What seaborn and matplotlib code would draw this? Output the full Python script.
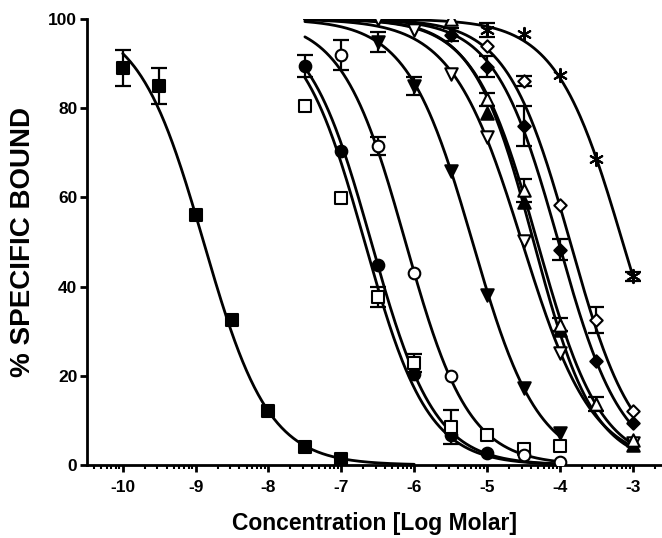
import numpy as np
import pandas as pd
import matplotlib
matplotlib.use("Agg")
import matplotlib.pyplot as plt
import seaborn as sns
from matplotlib.ticker import FixedLocator

# ---------------- data ----------------
# filled squares
x_sq_f = [-10, -9.5, -9, -8.5, -8, -7.5, -7]
y_sq_f = [89, 85, 56, 32.5, 12, 4, 1.3]
e_sq_f = [4, 4, 0, 0, 0, 0, 0]
# filled circles
x_ci_f = [-7.5, -7, -6.5, -6, -5.5, -5]
y_ci_f = [89.5, 70.3, 44.9, 20.4, 6.7, 2.6]
e_ci_f = [2.5, 0, 0, 0, 0, 0]
# open squares
x_sq_o = [-7.5, -7, -6.5, -6, -5.5, -5, -4.5, -4]
y_sq_o = [80.4, 59.8, 37.7, 22.8, 8.6, 6.7, 3.5, 4.3]
e_sq_o = [0, 0, 2.2, 2, 3.8, 0, 0, 0]
# open circles
x_ci_o = [-7, -6.5, -6, -5.5, -4.5, -4]
y_ci_o = [91.9, 71.5, 43.1, 20, 2.2, 0.7]
e_ci_o = [3.4, 2, 0, 0, 0, 0]
# filled down triangles
x_td_f = [-6.5, -6, -5.5, -5, -4.5, -4]
y_td_f = [94.8, 85, 65.9, 38.2, 17.2, 7.1]
e_td_f = [2.3, 2, 0, 0, 0, 0]
# open down triangles
x_td_o = [-6.5, -6, -5.5, -5, -4.5, -4, -3]
y_td_o = [100, 97.6, 87.6, 73.6, 50.2, 25.1, 4.9]
e_td_o = [0, 0, 0, 0, 0, 0, 0]
# filled up triangles
x_tu_f = [-5, -4.5, -4, -3]
y_tu_f = [79, 59, 30.2, 4.5]
e_tu_f = [0, 0, 0, 0]
# open up triangles
x_tu_o = [-5.5, -5, -4.5, -4, -3.5, -3]
y_tu_o = [100, 82, 61.6, 31.5, 13.7, 5.5]
e_tu_o = [0, 1.5, 2.6, 1.5, 1.5, 0]
# filled diamonds
x_di_f = [-5.5, -5, -4.5, -4, -3.5, -3]
y_di_f = [96.5, 89.3, 76, 48.3, 23.4, 9.5]
e_di_f = [1.5, 2.3, 4.5, 2.4, 0, 0]
# open diamonds
x_di_o = [-5, -4.5, -4, -3.5, -3]
y_di_o = [94, 86.1, 58.4, 32.6, 12.2]
e_di_o = [0, 1.2, 0, 2.9, 0]
# asterisks
x_ast = [-5, -4.5, -4, -3.5, -3]
y_ast = [97.5, 96.6, 87.4, 68.7, 42.3]
e_ast = [1.5, 0, 0, 0, 1]

# fitted curve parameters (logIC50, Hill slope, x-range)
series_names = ["sq_f", "ci_f", "sq_o", "ci_o", "td_f", "td_o",
                "tu_f", "tu_o", "di_f", "di_o", "ast"]
fit_logic50 = [-8.89, -6.59, -6.68, -6.12, -5.20, -4.52,
               -4.36, -4.31, -4.02, -3.86, -3.14]
fit_hill = [0.97, 1.0, 1.0, 1.0, 0.97, 0.9,
            1.05, 1.0, 1.0, 1.0, 0.95]
fit_from = [-10, -7.5, -7.5, -7.5, -7.5, -7.5,
            -7.5, -7.5, -7.5, -7.5, -7.5]
fit_to = [-6, -4, -4, -4, -4, -3, -3, -3, -3, -3, -3]

x_ticks = [-10, -9, -8, -7, -6, -5, -4, -3]
x_ticklabels = ["-10", "-9", "-8", "-7", "-6", "-5", "-4", "-3"]
y_ticks = [0, 20, 40, 60, 80, 100]

data = {
    "sq_f": (x_sq_f, y_sq_f, e_sq_f),
    "ci_f": (x_ci_f, y_ci_f, e_ci_f),
    "sq_o": (x_sq_o, y_sq_o, e_sq_o),
    "ci_o": (x_ci_o, y_ci_o, e_ci_o),
    "td_f": (x_td_f, y_td_f, e_td_f),
    "td_o": (x_td_o, y_td_o, e_td_o),
    "tu_f": (x_tu_f, y_tu_f, e_tu_f),
    "tu_o": (x_tu_o, y_tu_o, e_tu_o),
    "di_f": (x_di_f, y_di_f, e_di_f),
    "di_o": (x_di_o, y_di_o, e_di_o),
    "ast": (x_ast, y_ast, e_ast),
}

# marker styles: (marker, face colour, size s)
styles = {
    "sq_f": ("s", "black", 75),
    "ci_f": ("o", "black", 70),
    "sq_o": ("s", "white", 75),
    "ci_o": ("o", "white", 70),
    "td_f": ("v", "black", 80),
    "td_o": ("v", "white", 80),
    "tu_f": ("^", "black", 80),
    "tu_o": ("^", "white", 80),
    "di_f": ("D", "black", 40),
    "di_o": ("D", "white", 40),
    "ast": ((6, 2, 0), "black", 90),
}

# ---------------- plotting ----------------
sns.set_theme(style="ticks")
plt.rcParams["font.family"] = ["Liberation Sans", "DejaVu Sans"]
plt.rcParams["axes.unicode_minus"] = False

fig = plt.figure(figsize=(6.62, 5.38), dpi=100)
ax = fig.add_axes([87 / 662, 1 - 465 / 538, 1 - 87 / 662, (465 - 19) / 538])

for i, name in enumerate(series_names):
    xc = np.linspace(fit_from[i], fit_to[i], 300)
    yc = 100.0 / (1.0 + 10.0 ** ((xc - fit_logic50[i]) * fit_hill[i]))
    curve = pd.DataFrame({"x": xc, "y": yc})
    sns.lineplot(data=curve, x="x", y="y", color="black", linewidth=2.0,
                 estimator=None, sort=False, ax=ax, zorder=2)

for i, name in enumerate(series_names):
    xs, ys, es = data[name]
    xs = np.asarray(xs, float); ys = np.asarray(ys, float); es = np.asarray(es, float)
    m = es > 0
    if m.any():
        ax.errorbar(xs[m], ys[m], yerr=es[m], fmt="none", ecolor="black",
                    elinewidth=1.6, capsize=5.5, capthick=1.6, zorder=3)
    mk, fc, s = styles[name]
    pts = pd.DataFrame({"x": xs, "y": ys})
    sns.scatterplot(data=pts, x="x", y="y", marker=mk, s=s, color=fc,
                    edgecolor="black", linewidth=1.5, ax=ax, zorder=4,
                    legend=False)

ax.set_xlim(-10.49, -2.6)
ax.set_ylim(0, 100)
ax.set_xticks(x_ticks)
ax.set_xticklabels(x_ticklabels)
ax.set_yticks(y_ticks)
minor = []
for d in range(-12, -2):
    for k in range(2, 10):
        v = d + np.log10(k)
        if -10.49 < v < -2.6:
            minor.append(v)
ax.xaxis.set_minor_locator(FixedLocator(minor))

for sp in ["top", "right"]:
    ax.spines[sp].set_visible(False)
for sp in ["left", "bottom"]:
    ax.spines[sp].set_linewidth(2.0)
    ax.spines[sp].set_color("black")
    ax.spines[sp].set_clip_on(False)

ax.tick_params(axis="both", which="major", direction="out", length=5,
               width=2, color="black", labelsize=12.5, pad=2)
ax.tick_params(axis="x", which="major", pad=6)
ax.tick_params(axis="x", which="minor", direction="out", length=3,
               width=1.5, color="black")
for lab in ax.get_xticklabels() + ax.get_yticklabels():
    lab.set_fontweight("bold")
    lab.set_color("black")

ax.set_xlabel("Concentration [Log Molar]", fontsize=16.5, fontweight="bold",
              color="black", labelpad=12)
ax.set_ylabel("% SPECIFIC BOUND", fontsize=20, fontweight="bold",
              color="black", labelpad=9)
ax.grid(False)

fig.savefig("out.png", dpi=100)
